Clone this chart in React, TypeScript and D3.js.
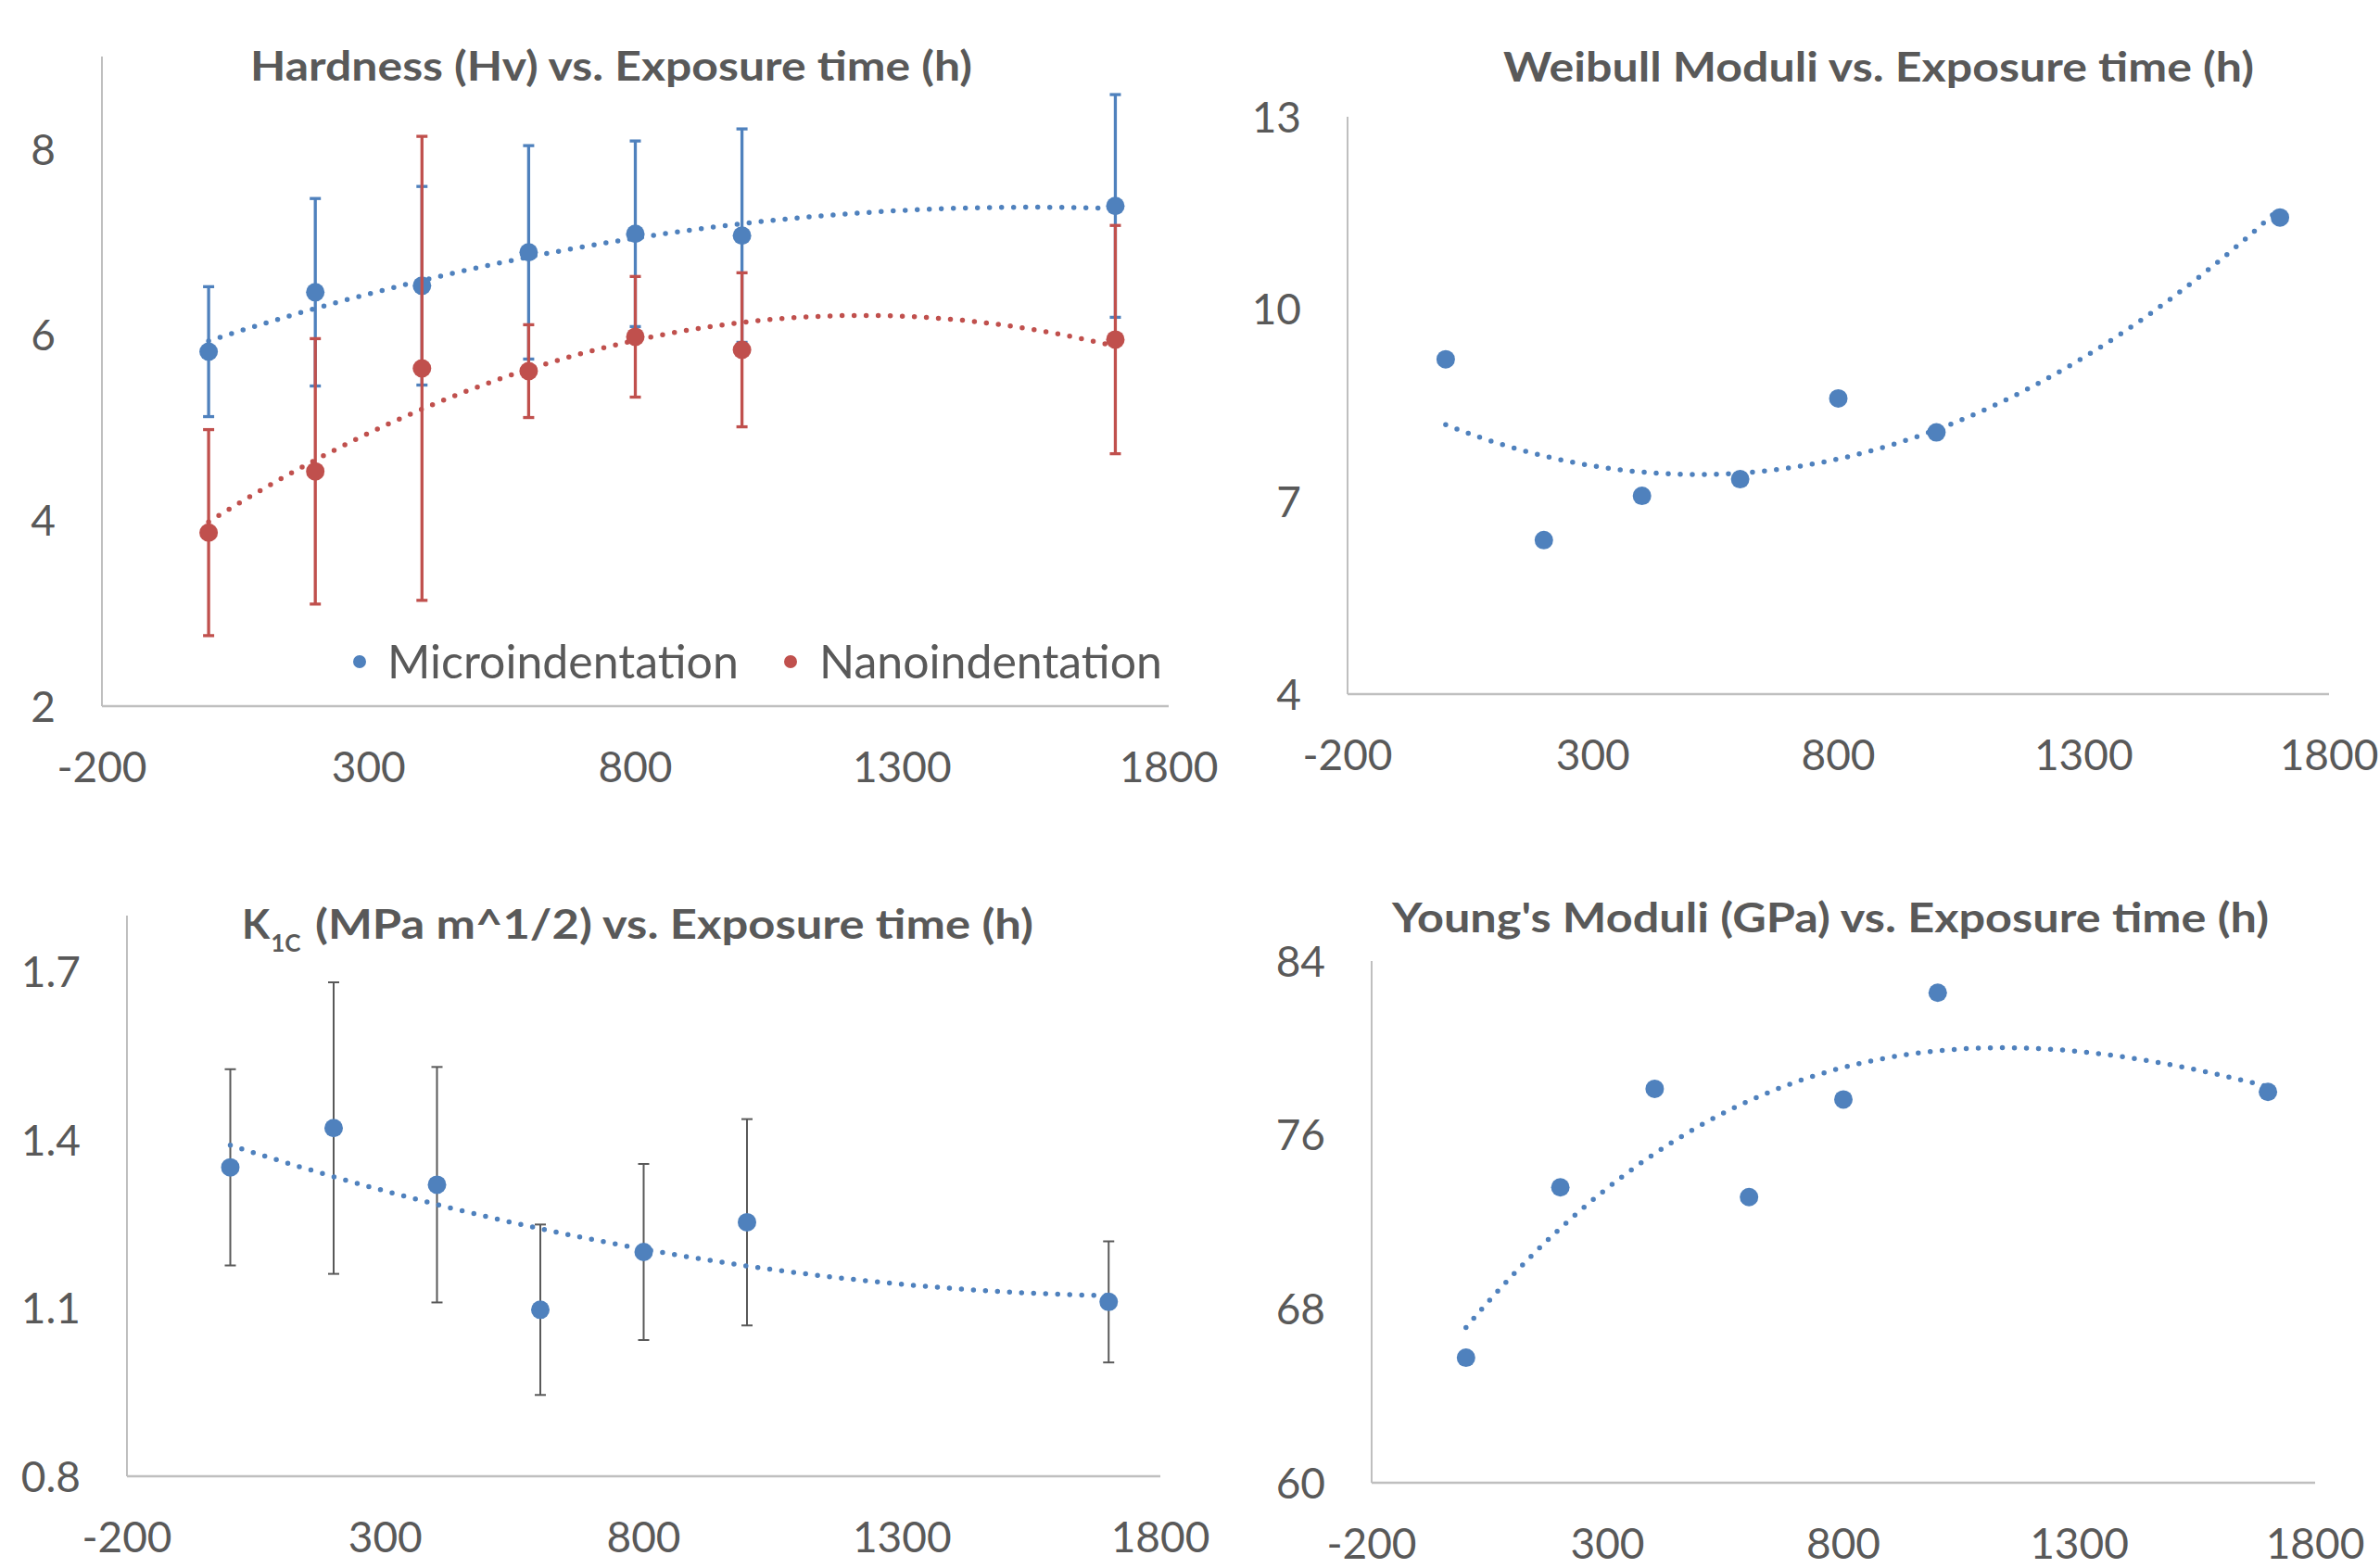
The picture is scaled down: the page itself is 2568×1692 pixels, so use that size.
import React from "react";
import * as d3 from "d3";

// exposure time (h)
const hours = [0, 200, 400, 600, 800, 1000, 1700];

const microHv = [5.82, 6.46, 6.53, 6.89, 7.09, 7.07, 7.39];
const microErr = [0.7, 1.01, 1.07, 1.15, 1.0, 1.15, 1.2];
const nanoHv = [3.87, 4.53, 5.64, 5.61, 5.98, 5.84, 5.95];
const nanoErr = [1.11, 1.43, 2.5, 0.5, 0.65, 0.83, 1.23];

const weibull = [9.22, 6.4, 7.09, 7.35, 8.61, 8.08, 11.43];

const k1c = [1.351, 1.421, 1.32, 1.097, 1.2, 1.253, 1.111];
const k1cErr = [0.175, 0.26, 0.21, 0.152, 0.157, 0.184, 0.108];

const youngs = [65.75, 73.59, 78.12, 73.14, 77.63, 82.54, 77.98];

const xTicks = [-200, 300, 800, 1300, 1800];
const hvTicks = [2, 4, 6, 8];
const weibullTicks = [4, 7, 10, 13];
const k1cTicks = [0.8, 1.1, 1.4, 1.7];
const youngsTicks = [60, 68, 76, 84];

const BLUE = "#4F81BD";
const RED = "#C0504D";
const TEXT = "#595959";
const AXIS = "#BFBFBF";
const FONT = "Lato, 'Open Sans', sans-serif";

// least squares polynomial fit (Excel polynomial trendline)
function polyFit(xs, ys, order) {
  const m = order + 1;
  const A = [];
  for (let r = 0; r < m; r++) {
    const row = [];
    for (let c = 0; c < m; c++) row.push(d3.sum(xs, (x) => Math.pow(x / 100, r + c)));
    row.push(d3.sum(xs, (x, i) => ys[i] * Math.pow(x / 100, r)));
    A.push(row);
  }
  for (let c = 0; c < m; c++) {
    for (let r = c + 1; r < m; r++) {
      const f = A[r][c] / A[c][c];
      for (let k = c; k <= m; k++) A[r][k] -= f * A[c][k];
    }
  }
  const coef = new Array(m).fill(0);
  for (let r = m - 1; r >= 0; r--) {
    let v = A[r][m];
    for (let k = r + 1; k < m; k++) v -= A[r][k] * coef[k];
    coef[r] = v / A[r][r];
  }
  return (x) => coef.reduce((s, c, k) => s + c * Math.pow(x / 100, k), 0);
}

const Title = ({ x, y, w, children }) => (
  <text
    x={x}
    y={y}
    textLength={w}
    lengthAdjust="spacingAndGlyphs"
    fontSize={44}
    fontWeight={700}
    fill={TEXT}
    fontFamily={FONT}
  >
    {children}
  </text>
);

const Panel = ({ box, yDomain, yTicks, yFmt, title, series, legend }) => {
  const x = d3.scaleLinear().domain([-200, 1800]).range([box.x0, box.x1]);
  const y = d3.scaleLinear().domain(yDomain).range([box.yBot, box.yTop]);
  const line = d3
    .line()
    .x((d) => x(d[0]))
    .y((d) => y(d[1]));

  return (
    <g>
      {title}
      <line x1={box.x0} x2={box.x0} y1={box.yTop} y2={box.yBot} stroke={AXIS} strokeWidth={2} />
      <line x1={box.x0} x2={box.x1} y1={box.yBot} y2={box.yBot} stroke={AXIS} strokeWidth={2.5} />
      {yTicks.map((t) => (
        <text
          key={t}
          x={box.x0 - 50}
          y={y(t) + 16.5}
          textAnchor="end"
          fontSize={46}
          fill={TEXT}
          fontFamily={FONT}
        >
          {yFmt ? yFmt(t) : t}
        </text>
      ))}
      {xTicks.map((t) => (
        <text
          key={t}
          x={x(t)}
          y={box.yBot + 82}
          textAnchor="middle"
          fontSize={46}
          fill={TEXT}
          fontFamily={FONT}
        >
          {t}
        </text>
      ))}
      {series.map((s, si) => {
        const f = polyFit(hours, s.values, s.order || 2);
        const pts = d3.range(0, 1701, 10).map((h) => [h, f(h)]);
        return (
          <g key={si}>
            {s.err &&
              s.values.map((v, i) => {
                const cx = x(hours[i]);
                const y1 = y(v + s.err[i]);
                const y2 = y(v - s.err[i]);
                return (
                  <g key={i} stroke={s.errColor} strokeWidth={s.errWidth}>
                    <line x1={cx} x2={cx} y1={y1} y2={y2} />
                    <line x1={cx - 6} x2={cx + 6} y1={y1} y2={y1} />
                    <line x1={cx - 6} x2={cx + 6} y1={y2} y2={y2} />
                  </g>
                );
              })}
            <path
              d={line(pts)}
              fill="none"
              stroke={s.color}
              strokeWidth={5.5}
              strokeLinecap="round"
              strokeDasharray="0 13"
            />
            {s.values.map((v, i) => (
              <circle key={i} cx={x(hours[i])} cy={y(v)} r={10} fill={s.color} />
            ))}
          </g>
        );
      })}
      {legend}
    </g>
  );
};

export default function App() {
  return (
    <svg
      width={2568}
      height={1692}
      style={{ position: "absolute", left: 0, top: 0, background: "#fff" }}
    >
      <rect width={2568} height={1692} fill="#fff" />
      <Panel
        box={{ x0: 110, x1: 1261, yTop: 61, yBot: 762 }}
        yDomain={[2, 9]}
        yTicks={hvTicks}
        title={
          <Title x={270} y={87} w={779}>
            Hardness (Hv) vs. Exposure time (h)
          </Title>
        }
        series={[
          { values: microHv, err: microErr, color: BLUE, errColor: BLUE, errWidth: 3.3 },
          { values: nanoHv, err: nanoErr, color: RED, errColor: RED, errWidth: 3.3 },
        ]}
        legend={
          <g fontFamily={FONT} fontSize={50} fill={TEXT}>
            <circle cx={388} cy={714} r={7} fill={BLUE} />
            <text x={418} y={732}>Microindentation</text>
            <circle cx={853} cy={714} r={7} fill={RED} />
            <text x={884} y={732}>Nanoindentation</text>
          </g>
        }
      />
      <Panel
        box={{ x0: 1454, x1: 2513, yTop: 126, yBot: 749 }}
        yDomain={[4, 13]}
        yTicks={weibullTicks}
        title={
          <Title x={1622} y={88} w={810}>
            Weibull Moduli vs. Exposure time (h)
          </Title>
        }
        series={[{ values: weibull, color: BLUE }]}
      />
      <Panel
        box={{ x0: 137, x1: 1252, yTop: 988, yBot: 1593 }}
        yDomain={[0.8, 1.8]}
        yTicks={k1cTicks}
        yFmt={(t) => t.toFixed(1)}
        title={
          <g>
            <text x={261} y={1013} fontSize={44} fontWeight={700} fill={TEXT} fontFamily={FONT}>
              K
              <tspan fontSize={26} dy={14} dx={1}>1C</tspan>
            </text>
            <Title x={340} y={1013} w={775}>
              (MPa m^1/2) vs. Exposure time (h)
            </Title>
          </g>
        }
        series={[
          { values: k1c, err: k1cErr, color: BLUE, errColor: "#595959", errWidth: 2 },
        ]}
      />
      <Panel
        box={{ x0: 1480, x1: 2498, yTop: 1037, yBot: 1600 }}
        yDomain={[60, 84]}
        yTicks={youngsTicks}
        title={
          <Title x={1502} y={1006} w={946}>
            Young's Moduli (GPa) vs. Exposure time (h)
          </Title>
        }
        series={[{ values: youngs, color: BLUE, order: 3 }]}
      />
    </svg>
  );
}
